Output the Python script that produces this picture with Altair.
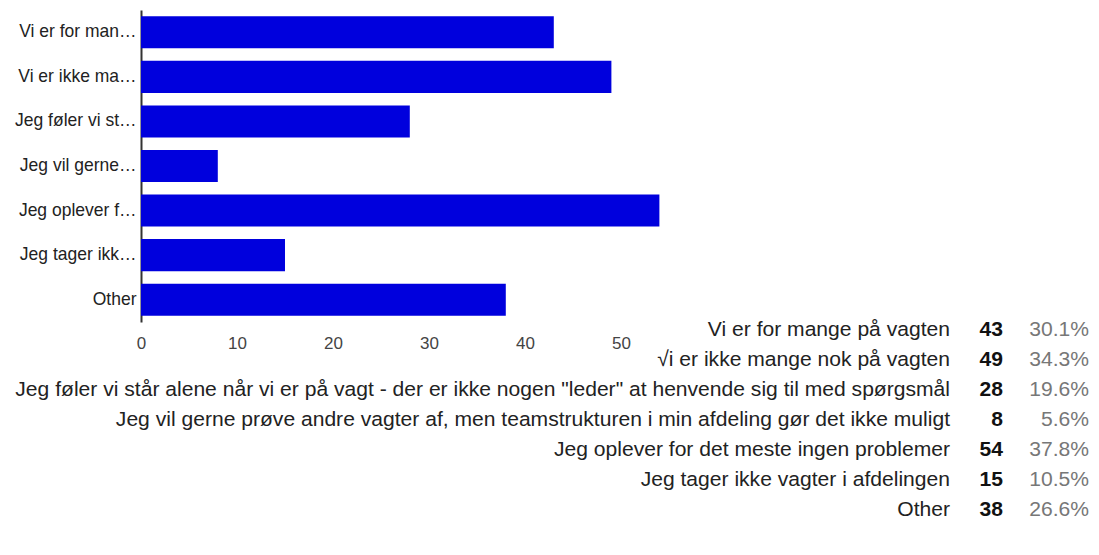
import altair as alt
import pandas as pd

full_labels = [
    "Vi er for mange på vagten",
    "√i er ikke mange nok på vagten",
    "Jeg føler vi står alene når vi er på vagt - der er ikke nogen \"leder\" at henvende sig til med spørgsmål",
    "Jeg vil gerne prøve andre vagter af, men teamstrukturen i min afdeling gør det ikke muligt",
    "Jeg oplever for det meste ingen problemer",
    "Jeg tager ikke vagter i afdelingen",
    "Other",
]
short_labels = [
    "Vi er for man…",
    "Vi er ikke ma…",
    "Jeg føler vi st…",
    "Jeg vil gerne…",
    "Jeg oplever f…",
    "Jeg tager ikk…",
    "Other",
]
counts = [43, 49, 28, 8, 54, 15, 38]
percents = ["30.1%", "34.3%", "19.6%", "5.6%", "37.8%", "10.5%", "26.6%"]
x_ticks = [0, 10, 20, 30, 40, 50]

FONT = "Liberation Sans, Arial"

df = pd.DataFrame({
    "short": short_labels,
    "full": full_labels,
    "count": counts,
    "pct": percents,
})

bars = alt.Chart(df).mark_bar(color="#0000dd").encode(
    x=alt.X(
        "count:Q",
        scale=alt.Scale(domain=[0, 54], nice=False, zero=True),
        axis=alt.Axis(
            values=x_ticks, title=None, grid=False, domain=False, ticks=False,
            labelFlush=False,
            labelFont=FONT, labelFontSize=17, labelColor="#444444", labelPadding=14,
        ),
    ),
    y=alt.Y(
        "short:N",
        sort=short_labels,
        scale=alt.Scale(paddingInner=0.28, paddingOuter=0.14),
        axis=alt.Axis(
            title=None, ticks=False, domain=True, domainColor="#333333", domainWidth=2,
            labelFont=FONT, labelFontSize=17.5, labelColor="#222222", labelPadding=5,
            labelLimit=300,
        ),
    ),
)

row_y = alt.Y(
    "full:N",
    sort=full_labels,
    scale=alt.Scale(type="point", domain=full_labels, range=[320, 500], padding=0),
    axis=None,
)

TS = 21.1

label_txt = alt.Chart(df).mark_text(
    align="right", baseline="middle", font=FONT, fontSize=TS, color="#222222"
).encode(x=alt.value(809), y=row_y, text="full:N")

count_txt = alt.Chart(df).mark_text(
    align="right", baseline="middle", font=FONT, fontSize=TS, fontWeight="bold", color="#111111"
).encode(x=alt.value(862), y=row_y, text="count:Q")

pct_txt = alt.Chart(df).mark_text(
    align="right", baseline="middle", font=FONT, fontSize=TS, color="#777777"
).encode(x=alt.value(948), y=row_y, text="pct:N")

chart = alt.layer(bars, label_txt, count_txt, pct_txt).resolve_scale(
    y="independent", x="independent"
).properties(
    width=518.4,
    height=312,
    autosize=alt.AutoSizeParams(type="none"),
    padding={"left": 133, "top": 2, "right": 431, "bottom": 225},
).configure_view(strokeWidth=0)

chart.save("out.html", embed_options={"renderer": "svg", "actions": False})
